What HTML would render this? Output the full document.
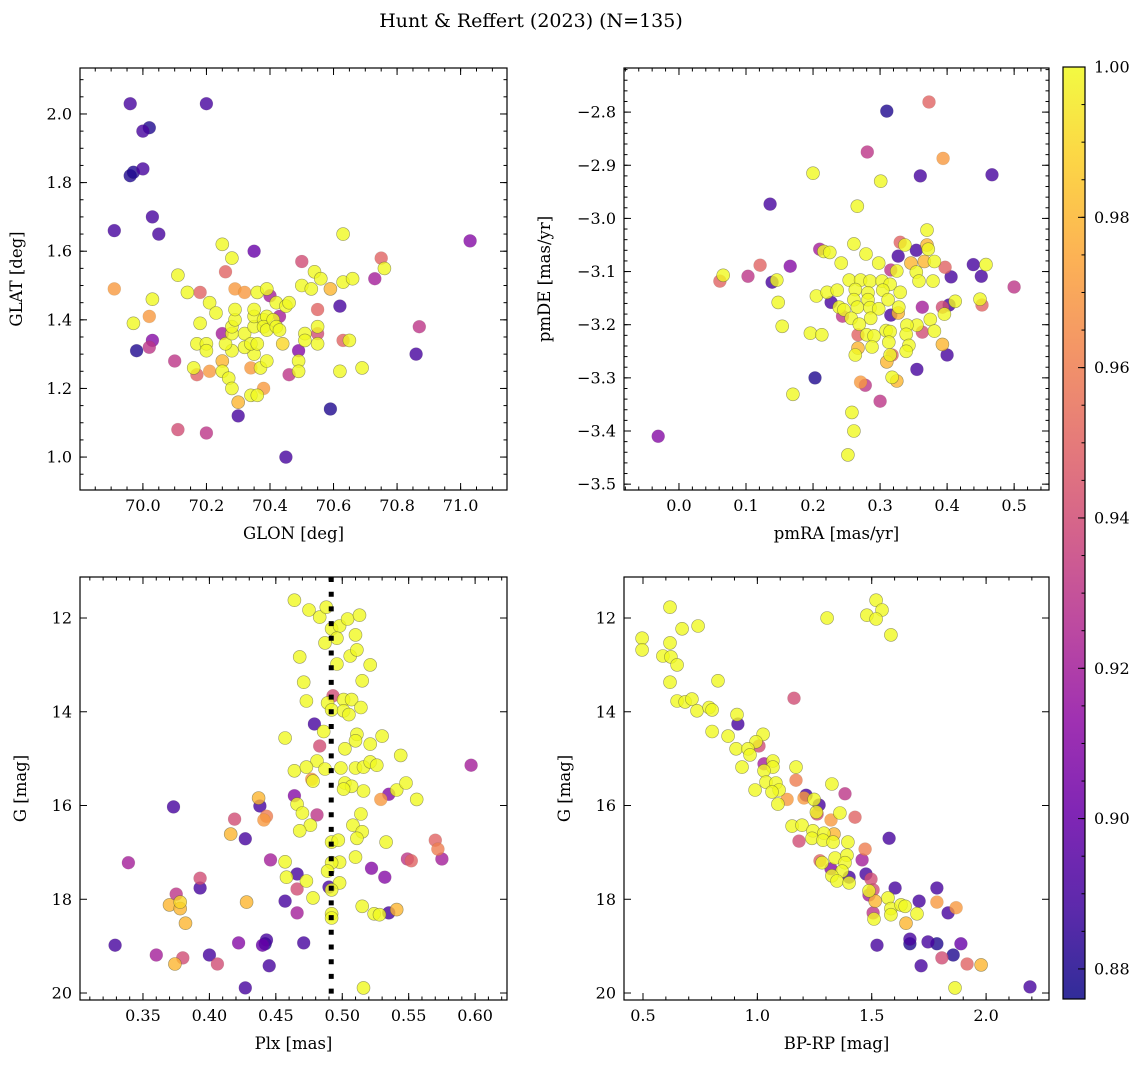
<!DOCTYPE html>
<html><head><meta charset="utf-8">
<style>
html,body{margin:0;padding:0;background:#fff;}
svg{display:block;font-family:"DejaVu Serif","Liberation Serif",serif;}
</style></head>
<body>
<svg id="fig" width="1148" height="1067" viewBox="0 0 1148 1067" xmlns="http://www.w3.org/2000/svg">
<defs>
<linearGradient id="plasma" x1="0" y1="1" x2="0" y2="0">
<stop offset="0" stop-color="#0d0887"/><stop offset="0.1" stop-color="#41049d"/><stop offset="0.2" stop-color="#6a00a8"/><stop offset="0.3" stop-color="#8f0da4"/><stop offset="0.4" stop-color="#b12a90"/><stop offset="0.5" stop-color="#cc4778"/><stop offset="0.6" stop-color="#e16462"/><stop offset="0.7" stop-color="#f2844b"/><stop offset="0.8" stop-color="#fca636"/><stop offset="0.9" stop-color="#fcce25"/><stop offset="1" stop-color="#f0f921"/>
</linearGradient>
</defs>
<text x="531" y="27" font-size="19" text-anchor="middle">Hunt &amp; Reffert (2023) (N=135)</text>
</svg>
<script>
// ---- data (x, y, membership probability) ----
const glonGlat = [
[69.96,2.03,.89],[70.20,2.03,.89],[70.0,1.95,.89],[70.02,1.96,.88],[69.96,1.82,.88],[69.97,1.83,.88],[70.0,1.84,.89],[70.03,1.70,.89],[69.91,1.66,.89],[70.05,1.65,.89],[70.35,1.60,.90],[71.03,1.63,.91],[70.62,1.44,.89],[69.98,1.31,.88],[70.03,1.34,.91],[70.02,1.32,.93],[70.10,1.28,.93],[70.30,1.12,.89],[70.59,1.14,.88],[70.45,1.00,.89],[70.11,1.08,.94],[70.20,1.07,.93],[70.86,1.30,.89],[70.87,1.38,.93],[70.73,1.52,.92],[70.75,1.58,.95],[70.50,1.57,.94],[70.26,1.54,.95],[70.18,1.48,.95],[69.91,1.49,.97],[70.55,1.43,.95],[70.49,1.31,.91],[70.55,1.36,.94],[70.63,1.34,.95],[70.46,1.24,.93],[70.17,1.24,.95],[70.21,1.25,.97],[70.38,1.20,.97],[70.25,1.36,.92],[70.40,1.47,.92],[70.43,1.41,.92],[70.29,1.49,.97],[70.32,1.48,.97],[70.02,1.41,.97],[70.34,1.26,.97],
[70.25,1.62,1],[70.28,1.58,1],[70.11,1.53,1],[70.14,1.48,1],[70.03,1.46,1],[69.97,1.39,1],[70.21,1.45,1],[70.23,1.42,1],[70.18,1.39,1],[70.17,1.33,1],[70.20,1.33,1],[70.20,1.31,1],[70.16,1.26,1],[70.25,1.28,.98],[70.25,1.25,1],[70.27,1.23,1],[70.28,1.20,1],[70.30,1.16,.98],[70.34,1.18,1],[70.36,1.18,1],[70.37,1.26,1],[70.39,1.28,1],[70.35,1.30,1],[70.32,1.32,1],[70.28,1.31,1],[70.26,1.33,1],[70.28,1.36,1],[70.28,1.38,1],[70.29,1.40,1],[70.29,1.43,1],[70.32,1.36,1],[70.34,1.33,1],[70.36,1.33,1],[70.35,1.38,1],[70.35,1.41,1],[70.35,1.43,1],[70.36,1.48,1],[70.39,1.49,1],[70.38,1.40,1],[70.39,1.41,1],[70.38,1.38,1],[70.39,1.37,1],[70.41,1.40,1],[70.42,1.38,1],[70.42,1.45,1],[70.45,1.44,1],[70.46,1.45,1],[70.43,1.37,1],[70.44,1.33,.99],[70.49,1.28,1],[70.49,1.25,1],[70.51,1.36,1],[70.51,1.34,1],[70.55,1.33,1],[70.55,1.38,1],[70.50,1.50,1],[70.53,1.49,1],[70.54,1.54,1],[70.56,1.52,1],[70.59,1.49,.98],[70.63,1.51,1],[70.66,1.52,1],[70.76,1.55,1],[70.63,1.65,1],[70.65,1.34,1],[70.62,1.25,1],[70.69,1.26,1]];
const pmraPmde = [
[-0.031,-3.41,.91],[0.061,-3.118,.95],[0.066,-3.107,1],[0.103,-3.109,.93],[0.121,-3.088,.95],[0.139,-3.12,.89],[0.146,-3.116,1],[0.166,-3.09,.91],[0.136,-2.973,.89],[0.200,-2.915,1],[0.148,-3.158,1],[0.154,-3.203,1],[0.170,-3.331,1],[0.203,-3.30,.88],[0.196,-3.216,1],[0.213,-3.219,1],[0.210,-3.058,.92],[0.216,-3.062,1],[0.225,-3.064,1],[0.242,-3.084,1],[0.205,-3.146,1],[0.221,-3.139,1],[0.227,-3.158,.89],[0.239,-3.167,1],[0.236,-3.135,1],[0.254,-3.116,1],[0.244,-3.184,.93],[0.246,-3.172,1],[0.261,-3.048,1],[0.266,-2.977,1],[0.281,-2.875,.93],[0.301,-2.930,1],[0.310,-2.798,.88],[0.279,-3.067,1],[0.298,-3.084,1],[0.271,-3.116,1],[0.285,-3.118,1],[0.263,-3.134,1],[0.282,-3.140,1],[0.261,-3.153,1],[0.282,-3.153,1],[0.266,-3.167,1],[0.285,-3.168,1],[0.298,-3.170,1],[0.286,-3.188,1],[0.257,-3.188,1],[0.269,-3.199,1],[0.267,-3.219,.95],[0.280,-3.219,1],[0.291,-3.221,1],[0.267,-3.244,.98],[0.263,-3.257,1],[0.288,-3.242,1],[0.303,-3.118,1],[0.315,-3.124,1],[0.304,-3.135,1],[0.312,-3.153,1],[0.330,-3.139,1],[0.316,-3.182,.89],[0.327,-3.178,.98],[0.328,-3.167,1],[0.309,-3.211,1],[0.315,-3.213,1],[0.313,-3.233,1],[0.318,-3.257,.95],[0.315,-3.257,1],[0.310,-3.270,.98],[0.318,-3.299,1],[0.325,-3.306,.98],[0.271,-3.308,.97],[0.278,-3.314,.93],[0.300,-3.344,.93],[0.258,-3.365,1],[0.261,-3.40,1],[0.252,-3.445,1],[0.316,-3.097,.93],[0.325,-3.099,1],[0.330,-3.045,.95],[0.337,-3.05,1],[0.327,-3.071,.89],[0.354,-3.06,.89],[0.346,-3.084,.98],[0.354,-3.101,1],[0.358,-3.118,1],[0.366,-3.081,.98],[0.370,-3.05,.98],[0.370,-3.022,1],[0.372,-3.058,1],[0.381,-3.081,1],[0.379,-3.118,1],[0.360,-2.920,.89],[0.373,-2.781,.95],[0.394,-2.887,.97],[0.467,-2.918,.89],[0.397,-3.092,.95],[0.406,-3.110,.89],[0.439,-3.087,.89],[0.458,-3.087,1],[0.451,-3.109,.89],[0.500,-3.129,.93],[0.363,-3.167,.92],[0.393,-3.167,.94],[0.403,-3.163,.89],[0.396,-3.180,1],[0.412,-3.156,1],[0.449,-3.152,1],[0.452,-3.163,.95],[0.375,-3.190,1],[0.355,-3.201,1],[0.363,-3.214,.94],[0.381,-3.212,1],[0.340,-3.201,1],[0.339,-3.218,1],[0.343,-3.239,1],[0.339,-3.250,1],[0.393,-3.237,.98],[0.400,-3.257,.89],[0.355,-3.284,.89]];
const plxG = [
[0.464,11.62,1],[0.475,11.83,1],[0.483,11.98,1],[0.488,11.77,1],[0.492,12.23,1],[0.498,12.17,1],[0.504,12.02,1],[0.513,11.94,1],[0.496,12.43,1],[0.510,12.36,1],[0.487,12.53,1],[0.506,12.81,1],[0.511,12.68,1],[0.496,12.98,1],[0.521,13.00,1],[0.468,12.83,1],[0.471,13.37,1],[0.515,13.34,1],[0.473,13.77,1],[0.489,13.81,1],[0.493,13.66,.94],[0.501,13.74,1],[0.507,13.74,1],[0.514,13.91,1],[0.492,13.96,1],[0.501,13.98,1],[0.505,14.06,1],[0.479,14.26,.89],[0.486,14.42,1],[0.457,14.56,1],[0.483,14.73,.94],[0.511,14.48,1],[0.510,14.62,1],[0.521,14.69,1],[0.530,14.52,1],[0.502,14.79,1],[0.544,14.93,1],[0.597,15.14,.92],[0.481,15.05,1],[0.464,15.26,1],[0.473,15.18,1],[0.487,15.22,1],[0.499,15.20,1],[0.510,15.20,1],[0.516,15.18,1],[0.521,15.07,1],[0.526,15.14,1],[0.502,15.52,1],[0.507,15.59,1],[0.501,15.65,1],[0.516,15.69,1],[0.541,15.67,1],[0.548,15.52,1],[0.556,15.87,1],[0.535,15.76,.91],[0.529,15.87,.97],[0.477,15.44,.97],[0.478,15.48,1],[0.464,15.79,.91],[0.466,15.97,1],[0.470,16.16,1],[0.481,16.20,.93],[0.514,16.18,1],[0.508,16.42,1],[0.515,16.56,1],[0.511,16.70,1],[0.476,16.42,1],[0.468,16.54,1],[0.492,16.78,1],[0.497,16.74,1],[0.533,16.78,1],[0.510,17.10,1],[0.498,17.21,1],[0.492,17.22,1],[0.457,17.20,1],[0.489,17.40,1],[0.498,17.65,1],[0.522,17.34,.91],[0.532,17.53,.91],[0.549,17.14,.93],[0.552,17.18,.95],[0.570,16.74,.95],[0.572,16.93,.96],[0.575,17.14,.92],[0.437,15.84,.98],[0.438,16.01,.89],[0.443,16.23,.96],[0.441,16.31,.97],[0.419,16.29,.94],[0.416,16.61,.98],[0.427,16.71,.89],[0.446,17.16,.92],[0.373,16.03,.89],[0.339,17.22,.92],[0.466,17.46,.89],[0.458,17.53,1],[0.473,17.61,1],[0.466,17.78,.94],[0.490,17.74,.89],[0.492,17.80,1],[0.478,17.97,1],[0.457,18.04,.89],[0.466,18.29,.92],[0.492,18.31,1],[0.492,18.40,1],[0.515,18.15,1],[0.524,18.31,1],[0.528,18.33,1],[0.535,18.29,.89],[0.541,18.22,.98],[0.428,18.06,.98],[0.393,17.55,.94],[0.393,17.76,.89],[0.375,17.89,.93],[0.370,18.12,.98],[0.378,18.06,.99],[0.378,18.20,.98],[0.382,18.51,.98],[0.329,18.98,.89],[0.360,19.19,.92],[0.374,19.38,.98],[0.380,19.25,.94],[0.400,19.19,.89],[0.406,19.38,.94],[0.422,18.93,.91],[0.440,18.98,.90],[0.443,18.87,.89],[0.442,18.95,.88],[0.445,19.42,.89],[0.471,18.93,.89],[0.427,19.89,.89],[0.516,19.89,1]];
const bprpG = [
[0.618,11.77,1],[0.496,12.43,1],[0.496,12.68,1],[0.618,12.53,1],[0.671,12.23,1],[0.741,12.17,1],[0.587,12.81,1],[0.622,12.83,1],[0.649,13.00,1],[0.618,13.37,1],[0.828,13.34,1],[0.649,13.77,1],[0.684,13.79,1],[0.714,13.73,1],[0.736,13.98,1],[0.789,13.91,1],[0.802,13.96,1],[1.160,13.71,.94],[0.915,14.26,.89],[0.911,14.06,1],[0.802,14.42,1],[0.872,14.52,1],[1.025,14.48,1],[1.007,14.73,.94],[0.994,14.64,1],[0.907,14.79,1],[0.959,14.79,1],[0.968,14.92,1],[0.933,15.18,1],[1.029,15.11,.92],[1.068,15.05,1],[1.068,15.18,1],[1.029,15.26,1],[1.169,15.18,1],[1.169,15.46,.96],[1.326,15.54,1],[0.990,15.67,1],[1.038,15.50,1],[1.081,15.52,1],[1.095,15.67,1],[1.064,15.71,1],[1.090,15.97,1],[1.130,15.87,.97],[1.213,15.78,.89],[1.204,15.84,.97],[1.248,15.87,1],[1.270,15.99,.89],[1.261,16.18,.94],[1.258,16.14,1],[1.361,16.16,1],[1.383,15.75,.93],[1.322,16.31,.97],[1.427,16.25,.95],[1.152,16.44,1],[1.195,16.42,1],[1.182,16.76,.94],[1.243,16.54,1],[1.239,16.70,1],[1.291,16.59,1],[1.287,16.74,1],[1.335,16.61,.98],[1.331,16.78,1],[1.396,16.78,1],[1.576,16.70,.89],[1.471,16.93,.96],[1.458,17.16,.92],[1.274,17.18,.95],[1.283,17.22,1],[1.340,17.12,1],[1.392,17.06,1],[1.383,17.22,1],[1.322,17.35,.91],[1.370,17.40,1],[1.326,17.50,1],[1.348,17.61,1],[1.401,17.53,.89],[1.401,17.65,1],[1.475,17.46,.89],[1.497,17.57,.94],[1.506,17.80,.94],[1.488,17.82,1],[1.488,17.91,.92],[1.515,18.04,.98],[1.571,17.97,1],[1.602,17.76,.89],[1.584,18.20,1],[1.584,18.33,1],[1.628,18.12,1],[1.646,18.15,1],[1.650,18.51,.98],[1.698,18.31,1],[1.707,18.04,.89],[1.785,17.76,.89],[1.785,18.06,.97],[1.834,18.29,.89],[1.869,18.18,.97],[1.506,18.29,.93],[1.510,18.42,1],[1.523,18.98,.89],[1.667,18.85,.89],[1.667,18.95,.88],[1.746,18.91,.89],[1.785,18.95,.88],[1.890,18.95,.90],[1.856,19.19,.88],[1.807,19.25,.94],[1.917,19.38,.95],[1.978,19.40,.98],[1.716,19.42,.89],[1.864,19.89,1],[2.192,19.87,.89],[1.305,12.00,1],[1.479,11.94,1],[1.519,11.62,1],[1.545,11.83,1],[1.519,12.02,1],[1.584,12.36,1]];
const cbTicks = [0.88,0.90,0.92,0.94,0.96,0.98,1.00];
const plxRef = 0.4917;

const NS="http://www.w3.org/2000/svg";
const svg=document.getElementById('fig');
function mk(tag,attrs,parent){const e=document.createElementNS(NS,tag);for(const k in attrs)e.setAttribute(k,attrs[k]);(parent||svg).appendChild(e);return e;}
const stops=[[13,8,135],[65,4,157],[106,0,168],[143,13,164],[177,42,144],[204,71,120],[225,100,98],[242,132,75],[252,166,54],[252,206,37],[240,249,33]];
const CMIN=0.876,CMAX=1.0;
function cmap(v){let t=(v-CMIN)/(CMAX-CMIN);t=Math.max(0,Math.min(1,t))*10;const i=Math.min(9,Math.floor(t)),f=t-i;const a=stops[i],b=stops[i+1];return `rgb(${Math.round(a[0]+(b[0]-a[0])*f)},${Math.round(a[1]+(b[1]-a[1])*f)},${Math.round(a[2]+(b[2]-a[2])*f)})`;}
function fmt(v,d){const s=v.toFixed(d);return v<0?'\u2212'+s.slice(1):s;}

function panel(p){
  const g=mk('g',{});
  
  
  const sx=v=>p.L+(v-p.x0)/(p.x1-p.x0)*(p.R-p.L);
  const sy=v=>p.B-(v-p.y0)/(p.y1-p.y0)*(p.B-p.T);
  const pg=mk('g',{},g);
  
  
  const sorted=p.data.slice().sort((a,b)=>a[2]-b[2]);
  sorted.forEach(d=>{
    const c=mk('circle',{cx:sx(d[0]).toFixed(1),cy:sy(d[1]).toFixed(1),r:6.5,fill:cmap(d[2]),'fill-opacity':0.8,stroke:'#5a5a3a','stroke-opacity':d[2]>0.97?0.6:0.15,'stroke-width':0.6},pg);
    
    
  });
  if(p.extra)p.extra(g,sx,sy);
  const fr=mk('rect',{x:p.L,y:p.T,width:p.R-p.L,height:p.B-p.T,fill:'none',stroke:'#000','stroke-width':1.2},g);
  
  
  const tk=mk('g',{stroke:'#000','stroke-width':1},g);
  const eps=1e-9;
  for(let v=Math.ceil(p.x0/p.xm-eps)*p.xm;v<=p.x1+eps;v+=p.xm){const x=sx(v);mk('line',{x1:x,x2:x,y1:p.B,y2:p.B-3.5},tk);mk('line',{x1:x,x2:x,y1:p.T,y2:p.T+3.5},tk);}
  for(let v=Math.ceil(p.y0/p.ym-eps)*p.ym;v<=p.y1+eps;v+=p.ym){const y=sy(v);mk('line',{x1:p.L,x2:p.L+3.5,y1:y,y2:y},tk);mk('line',{x1:p.R,x2:p.R-3.5,y1:y,y2:y},tk);}
  p.xt.forEach(v=>{const x=sx(v);mk('line',{x1:x,x2:x,y1:p.B,y2:p.B-7},tk);mk('line',{x1:x,x2:x,y1:p.T,y2:p.T+7},tk);
    const t=mk('text',{x:x,y:p.B+21,'font-size':16,'text-anchor':'middle'},g);t.textContent=fmt(v,p.xd);
    });
  p.yt.forEach(v=>{const y=sy(v);mk('line',{x1:p.L,x2:p.L+7,y1:y,y2:y},tk);mk('line',{x1:p.R,x2:p.R-7,y1:y,y2:y},tk);
    const t=mk('text',{x:p.L-8,y:y+5.5,'font-size':16,'text-anchor':'end'},g);t.textContent=fmt(v,p.yd);
    });
  const xl=mk('text',{x:(p.L+p.R)/2,y:p.B+49,'font-size':16.5,'text-anchor':'middle'},g);xl.textContent=p.xlab;
  
  const yl=mk('text',{x:0,y:0,'font-size':16.5,'text-anchor':'middle',transform:`translate(${p.ylx},${(p.T+p.B)/2}) rotate(-90)`},g);yl.textContent=p.ylab;
  
}
function rng(a,b,s){const r=[];for(let v=a;v<=b+1e-9;v+=s)r.push(+v.toFixed(4));return r;}

panel({name:'glon-glat-panel',data:glonGlat,L:80,R:507,T:68,B:490,x0:69.802,x1:71.146,y0:0.904,y1:2.134,
  xt:rng(70,71,0.2),xd:1,xm:0.05,yt:rng(1,2,0.2),yd:1,ym:0.05,xlab:'GLON [deg]',ylab:'GLAT [deg]',ylx:22});
panel({name:'proper-motion-panel',data:pmraPmde,L:624,R:1049,T:68,B:490,x0:-0.082,x1:0.552,y0:-3.511,y1:-2.717,
  xt:rng(0,0.5,0.1),xd:1,xm:0.02,yt:rng(-3.5,-2.8,0.1),yd:1,ym:0.02,xlab:'pmRA [mas/yr]',ylab:'pmDE [mas/yr]',ylx:550});
panel({name:'parallax-magnitude-panel',data:plxG,L:80,R:507,T:577,B:1000,x0:0.3026,x1:0.624,y0:20.149,y1:11.125,
  xt:rng(0.35,0.6,0.05),xd:2,xm:0.01,yt:[12,14,16,18,20],yd:0,ym:0.5,xlab:'Plx [mas]',ylab:'G [mag]',ylx:26,
  extra:(g,sx,sy)=>{const l=mk('line',{x1:sx(plxRef),x2:sx(plxRef),y1:577,y2:1000,stroke:'#000','stroke-width':5,'stroke-dasharray':'5 9.7'},g);
    }});
panel({name:'cmd-panel',data:bprpG,L:624,R:1049,T:577,B:1000,x0:0.417,x1:2.275,y0:20.149,y1:11.125,
  xt:[0.5,1.0,1.5,2.0],xd:1,xm:0.1,yt:[12,14,16,18,20],yd:0,ym:0.5,xlab:'BP-RP [mag]',ylab:'G [mag]',ylx:570});

const cb=mk('g',{});


mk('rect',{x:1063,y:67,width:22,height:932,fill:'url(#plasma)','fill-opacity':0.85},cb);
mk('rect',{x:1063,y:67,width:22,height:932,fill:'none',stroke:'#000','stroke-width':1.2},cb);
const cy=v=>999-(v-CMIN)/(CMAX-CMIN)*932;
for(let v=0.88;v<=1.0001;v+=0.005){const y=cy(v);mk('line',{x1:1085,x2:1081.5,y1:y,y2:y,stroke:'#000'},cb);}
cbTicks.forEach(v=>{const y=cy(v);mk('line',{x1:1085,x2:1078,y1:y,y2:y,stroke:'#000'},cb);
  const t=mk('text',{x:1094,y:y+5.5,'font-size':16},cb);t.textContent=v.toFixed(2);
  });
</script>
</body></html>
